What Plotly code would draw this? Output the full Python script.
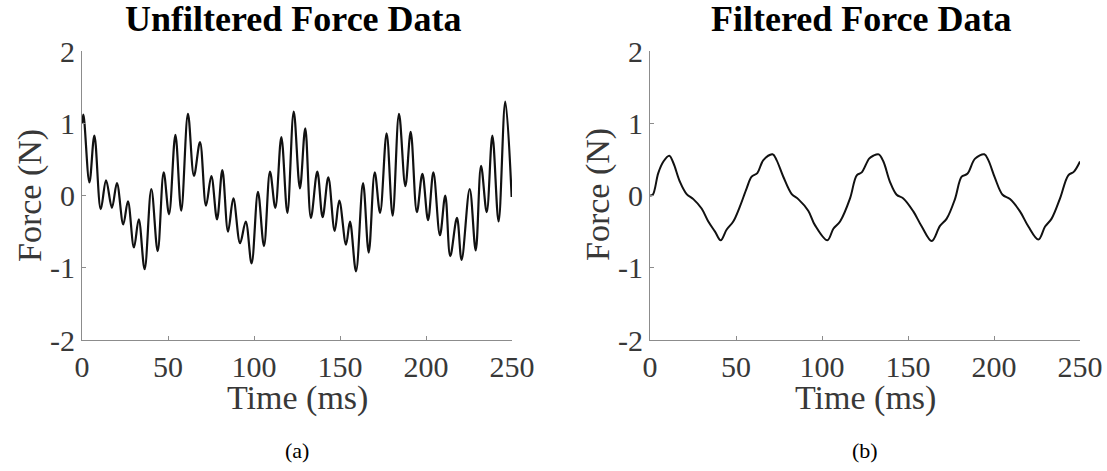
import plotly.graph_objects as go

# ---------------- data ----------------
t_raw = [0, 0.8, 4.3, 7.2, 10.9, 14.0, 17.4, 20.3, 24.0, 26.7, 30.2, 33.0, 36.4, 40.3, 44.0,
         47.5, 50.6, 54.3, 57.7, 61.6, 65.1, 68.6, 72.1, 75.2, 78.5, 81.6, 84.9, 88.0, 91.9,
         95.2, 98.6, 102.3, 105.8, 109.3, 112.4, 115.9, 119.4, 123.1, 126.7, 129.8, 133.1,
         136.8, 139.9, 143.2, 146.9, 149.6, 153.5, 155.8, 159.3, 163.4, 166.7, 170.2, 173.3,
         177.1, 180.6, 184.3, 188.0, 191.1, 194.7, 197.9, 201.2, 204.3, 208.1, 211.2, 214.1,
         218.0, 220.7, 225.4, 228.9, 232.0, 235.3, 238.6, 242.2, 246.1, 249.8]
f_raw = [1.0, 1.12, 0.18, 0.83, -0.19, 0.21, -0.17, 0.17, -0.40, -0.08, -0.72, -0.33, -1.02, 0.09, -0.77,
         0.32, -0.26, 0.84, -0.21, 1.13, 0.27, 0.74, -0.14, 0.27, -0.33, 0.35, -0.50, -0.04, -0.66,
         -0.36, -0.94, 0.05, -0.70, 0.33, -0.17, 0.81, -0.24, 1.16, 0.10, 0.93, -0.31,
         0.33, -0.30, 0.25, -0.49, -0.07, -0.68, -0.36, -1.05, 0.17, -0.79, 0.32, -0.24,
         0.86, -0.28, 1.13, 0.13, 0.88, -0.23, 0.30, -0.34, 0.32, -0.55, 0.0, -0.84,
         -0.31, -0.89, 0.09, -0.76, 0.41, -0.23, 0.83, -0.36, 1.30, -0.02]

t_filt = [0, 1.6, 4.8, 7.8, 11.2, 13.6, 17.4, 21.3, 25.2, 30.0, 33.9, 37.8, 41.1, 44.6, 48.4,
          52.3, 56.2, 59.1, 62.4, 65.9, 71.3, 73.6, 77.5, 82.4, 86.2, 92.0, 95.9, 103.1, 106.6,
          110.5, 116.3, 120.2, 123.1, 127.4, 129.8, 133.0, 135.7, 139.5, 143.4, 147.3, 153.1,
          158.0, 163.8, 168.6, 172.5, 177.3, 181.2, 184.5, 189.0, 194.4, 196.7, 200.6, 205.0,
          209.3, 215.1, 220.0, 225.8, 229.7, 233.5, 238.4, 243.2, 246.5, 250.0]
f_filt = [0.0, 0.01, 0.31, 0.47, 0.55, 0.45, 0.19, 0.02, -0.05, -0.18, -0.36, -0.50, -0.62, -0.47, -0.36,
          -0.15, 0.10, 0.26, 0.31, 0.49, 0.57, 0.49, 0.26, 0.02, -0.05, -0.21, -0.41, -0.62, -0.46,
          -0.36, -0.04, 0.28, 0.32, 0.51, 0.55, 0.57, 0.47, 0.19, 0.01, -0.04, -0.22,
          -0.43, -0.63, -0.42, -0.32, -0.05, 0.26, 0.30, 0.51, 0.57, 0.49, 0.24, 0.01,
          -0.05, -0.22, -0.43, -0.61, -0.43, -0.32, -0.04, 0.28, 0.33, 0.47]

x_ticks = [0, 50, 100, 150, 200, 250]
x_tick_labels = ["0", "50", "100", "150", "200", "250"]
y_ticks = [-2, -1, 0, 1, 2]
y_tick_labels = ["-2", "-1", "0", "1", "2"]

titles = ["Unfiltered Force Data", "Filtered Force Data"]
sub_labels = ["(a)", "(b)"]
x_title = "Time (ms)"
y_title = "Force (N)"

# ---------------- layout geometry ----------------
W, H = 1107, 471
SERIF = "Liberation Serif, Times New Roman, serif"
AX_COLOR = "#8c8c8c"
TXT_COLOR = "#383838"

def px_x(p):
    return p / W

def px_y(p):
    return 1 - p / H

left_dom = [px_x(82), px_x(512)]
right_dom = [px_x(650), px_x(1080)]
y_dom = [px_y(340), px_y(51)]

fig = go.Figure()
fig.add_trace(go.Scatter(x=t_raw, y=f_raw, mode="lines", xaxis="x", yaxis="y",
                         line=dict(color="#111111", width=2.2, shape="spline", smoothing=1.0),
                         showlegend=False, hoverinfo="skip"))
fig.add_trace(go.Scatter(x=t_filt, y=f_filt, mode="lines", xaxis="x2", yaxis="y2",
                         line=dict(color="#111111", width=2.0, shape="spline", smoothing=1.0),
                         showlegend=False, hoverinfo="skip"))

TICK_FONT = dict(family=SERIF, size=30, color=TXT_COLOR)

def xaxis(dom, anchor):
    return dict(domain=dom, anchor=anchor, range=[0, 250], tickvals=x_ticks, ticktext=x_tick_labels,
                showline=True, linecolor=AX_COLOR, linewidth=1, ticks="inside", ticklen=4,
                tickcolor=AX_COLOR, showgrid=False, zeroline=False, automargin=False,
                tickfont=TICK_FONT)

def yaxis(anchor):
    return dict(domain=y_dom, anchor=anchor, range=[-2, 2], tickvals=y_ticks, ticktext=y_tick_labels,
                showline=True, linecolor=AX_COLOR, linewidth=1, ticks="inside", ticklen=4,
                tickcolor=AX_COLOR, showgrid=False, zeroline=False, automargin=False,
                tickfont=TICK_FONT)

annotations = []
for i, dom in enumerate([left_dom, right_dom]):
    cx = (dom[0] + dom[1]) / 2
    annotations.append(dict(text="<b>%s</b>" % titles[i], x=cx - px_x(4), y=px_y(19), xref="paper", yref="paper",
                            showarrow=False, font=dict(family=SERIF, size=36, color="#000000"),
                            xanchor="center", yanchor="middle"))
    annotations.append(dict(text=x_title, x=cx, y=px_y(398), xref="paper", yref="paper",
                            showarrow=False, font=dict(family=SERIF, size=34, color=TXT_COLOR),
                            xanchor="center", yanchor="middle", borderpad=0))
    annotations.append(dict(text=sub_labels[i], x=cx, y=px_y(450), xref="paper", yref="paper",
                            showarrow=False, font=dict(family=SERIF, size=22, color="#000000"),
                            xanchor="center", yanchor="middle"))
    annotations.append(dict(text=y_title, x=dom[0] - px_x(52), y=px_y(195), xref="paper", yref="paper",
                            showarrow=False, textangle=-90, font=dict(family=SERIF, size=34, color=TXT_COLOR),
                            xanchor="center", yanchor="middle"))

fig.update_layout(
    template="none",
    width=W, height=H, margin=dict(l=0, r=0, t=0, b=0, pad=0),
    font=dict(family=SERIF),
    paper_bgcolor="white", plot_bgcolor="white",
    xaxis=xaxis(left_dom, "y"), yaxis=yaxis("x"),
    xaxis2=xaxis(right_dom, "y2"), yaxis2=yaxis("x2"),
    annotations=annotations,
)

fig.write_html("out.html")
